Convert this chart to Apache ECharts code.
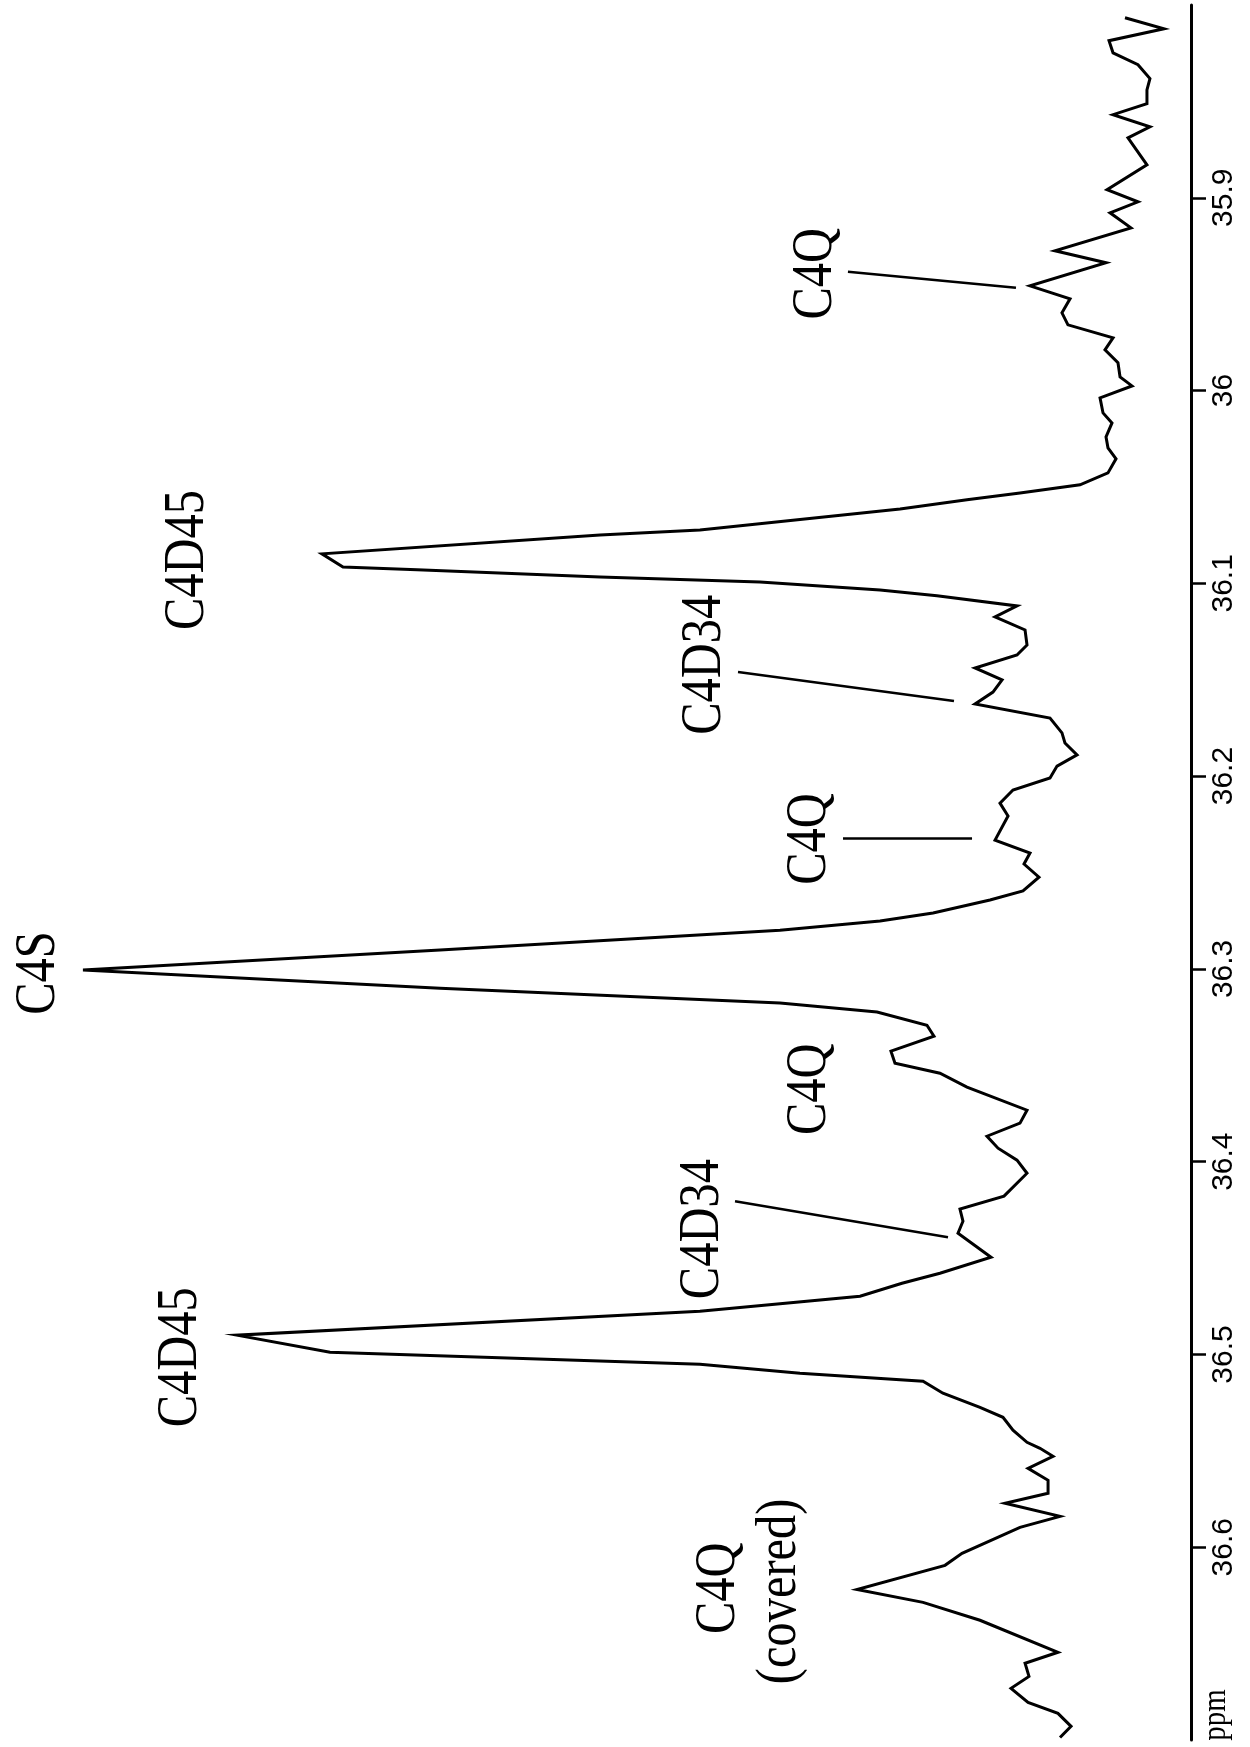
<!DOCTYPE html>
<html>
<head>
<meta charset="utf-8">
<script src="https://cdn.jsdelivr.net/npm/echarts@6/dist/echarts.min.js"></script>
<style>
  html, body { margin: 0; padding: 0; background: #fff; }
  #chart { width: 1250px; height: 1747px; }
</style>
</head>
<body>
<div id="chart"></div>
<script>
// chemical shift (ppm) of each traced point, top of the axis to the bottom
const shift = [
  35.8066, 35.8123, 35.8185, 35.8248, 35.8310, 35.8382, 35.8440, 35.8512, 35.8569, 35.8632,
  35.8689, 35.8829, 35.8958, 35.9021, 35.9078, 35.9156, 35.9275, 35.9337, 35.9457, 35.9524,
  35.9597, 35.9659, 35.9727, 35.9789, 35.9856, 35.9929, 35.9976, 36.0038, 36.0116, 36.0168,
  36.0240, 36.0297, 36.0354, 36.0427, 36.0489, 36.0531, 36.0567, 36.0614, 36.0723, 36.0749,
  36.0847, 36.0915, 36.0930, 36.0967, 36.0993, 36.1034, 36.1065, 36.1117, 36.1174, 36.1242,
  36.1320, 36.1372, 36.1439, 36.1501, 36.1564, 36.1626, 36.1699, 36.1776, 36.1828, 36.1890,
  36.1948, 36.2010, 36.2072, 36.2140, 36.2207, 36.2332, 36.2399, 36.2456, 36.2524, 36.2596,
  36.2643, 36.2710, 36.2752, 36.2799, 36.2902, 36.3006, 36.3100, 36.3177, 36.3224, 36.3292,
  36.3349, 36.3427, 36.3489, 36.3541, 36.3613, 36.3733, 36.3800, 36.3868, 36.3930, 36.3992,
  36.4060, 36.4179, 36.4246, 36.4309, 36.4371, 36.4496, 36.4579, 36.4631, 36.4698, 36.4776,
  36.4900, 36.4989, 36.5051, 36.5098, 36.5139, 36.5201, 36.5274, 36.5326, 36.5393, 36.5456,
  36.5487, 36.5528, 36.5591, 36.5653, 36.5720, 36.5772, 36.5840, 36.5897, 36.6032, 36.6094,
  36.6219, 36.6286, 36.6379, 36.6545, 36.6602, 36.6670, 36.6732, 36.6805, 36.6862, 36.6929,
  36.6987
]

// signal intensity (arbitrary units, grows to the left)
const intensity = [
  5.74, 2.35, 7.13, 6.78, 4.61, 3.57, 3.83, 3.83, 6.78, 3.57,
  5.48, 3.83, 7.30, 4.61, 7.04, 5.22, 11.83, 7.39, 14.00, 10.52,
  11.22, 10.70, 6.78, 7.48, 6.35, 6.17, 5.13, 7.91, 7.65, 6.87,
  7.39, 7.22, 6.52, 7.22, 9.65, 14.87, 19.48, 25.30, 42.70, 51.39,
  75.57, 73.74, 67.30, 51.39, 37.48, 27.04, 22.09, 15.13, 17.04, 14.43,
  14.26, 15.13, 18.78, 16.43, 17.22, 18.78, 12.26, 11.22, 10.96, 9.91,
  11.65, 12.26, 15.48, 16.61, 15.91, 17.04, 14.00, 14.52, 13.22, 14.61,
  17.48, 22.43, 27.04, 35.74, 65.30, 96.35, 65.30, 35.74, 27.30, 22.96,
  22.35, 26.09, 25.74, 21.83, 19.48, 14.26, 14.87, 17.74, 16.78, 15.13,
  14.26, 16.26, 20.09, 19.83, 20.26, 17.39, 21.83, 25.13, 28.78, 42.70,
  82.96, 74.87, 42.70, 34.00, 23.30, 21.57, 18.35, 16.35, 15.48, 14.26,
  13.13, 12.00, 14.17, 12.43, 12.43, 16.17, 11.39, 14.87, 19.91, 21.39,
  29.04, 23.30, 18.35, 11.57, 14.43, 14.09, 15.65, 14.17, 11.57, 10.43,
  11.39
]

const tickValues = [35.9, 36, 36.1, 36.2, 36.3, 36.4, 36.5, 36.6]

// peak assignments: text, [intensity, ppm] of the label centre
const labelText = ['C4Q', 'C4D45', 'C4D34', 'C4Q', 'C4S', 'C4Q', 'C4D34', 'C4D45', 'C4Q', '(covered)']
const labelAt = [
  [32.6, 35.9394], [87.2, 36.0879], [42.3, 36.1423], [33.1, 36.2326], [100.2, 36.3022],
  [33.1, 36.3624], [42.4, 36.4350], [87.8, 36.5015], [41.0, 36.6213], [35.7, 36.6229]
]

// leader lines from a label to its peak: [from, to] in [intensity, ppm]
const leaders = [
  [[29.83, 35.9384], [15.22, 35.9467]],
  [[39.39, 36.1460], [20.61, 36.1610]],
  [[30.26, 36.2321], [19.04, 36.2321]],
  [[39.65, 36.4205], [21.13, 36.4392]]
]

const chart = echarts.init(document.getElementById('chart'))

chart.setOption({
  animation: false,
  backgroundColor: '#fff',
  grid: { left: 41, right: 59, top: 5, bottom: 7, outerBoundsMode: 'none' },
  xAxis: { type: 'value', min: 0, max: 100, inverse: true, show: false },
  yAxis: {
    type: 'value',
    position: 'right',
    min: 35.8,
    max: 36.7,
    inverse: true,
    splitLine: { show: false },
    axisLine: { show: true, lineStyle: { color: '#000', width: 3 } },
    axisTick: { show: true, customValues: tickValues, length: 15, lineStyle: { color: '#000', width: 2.5 } },
    axisLabel: {
      customValues: tickValues,
      rotate: 90,
      margin: 18,
      color: '#000',
      fontSize: 30,
      fontFamily: "'Liberation Sans Narrow', 'Liberation Sans', Arial, sans-serif"
    }
  },
  series: [{
    type: 'line',
    data: intensity.map((v, i) => [v, shift[i]]),
    showSymbol: false,
    silent: true,
    lineStyle: { color: '#000', width: 3, join: 'miter' },
    markLine: {
      silent: true,
      symbol: 'none',
      label: { show: false },
      lineStyle: { color: '#000', width: 2.5, type: 'solid' },
      data: leaders.map(([a, b]) => [{ coord: a }, { coord: b }])
    }
  }]
})

// peak labels are rotated and a little condensed, as in the scan
const textStyle = (text, size) => ({
  text,
  fill: '#000',
  fontSize: size,
  fontFamily: "'Liberation Serif', 'Times New Roman', serif",
  align: 'center',
  verticalAlign: 'middle',
  textAlign: 'center',
  textVerticalAlign: 'middle'
})

const graphics = labelText.map((t, i) => {
  const [px, py] = chart.convertToPixel({ gridIndex: 0 }, labelAt[i])
  return {
    type: 'text',
    x: px,
    y: py,
    rotation: Math.PI / 2,
    scaleX: 0.85,
    silent: true,
    style: textStyle(t, 57)
  }
})

const [ux, uy] = chart.convertToPixel({ gridIndex: 0 }, [-2.2, 36.687])
graphics.push({
  type: 'text',
  x: ux,
  y: uy,
  rotation: Math.PI / 2,
  scaleX: 0.85,
  silent: true,
  style: textStyle('ppm', 34)
})

chart.setOption({ graphic: graphics })
</script>
</body>
</html>
